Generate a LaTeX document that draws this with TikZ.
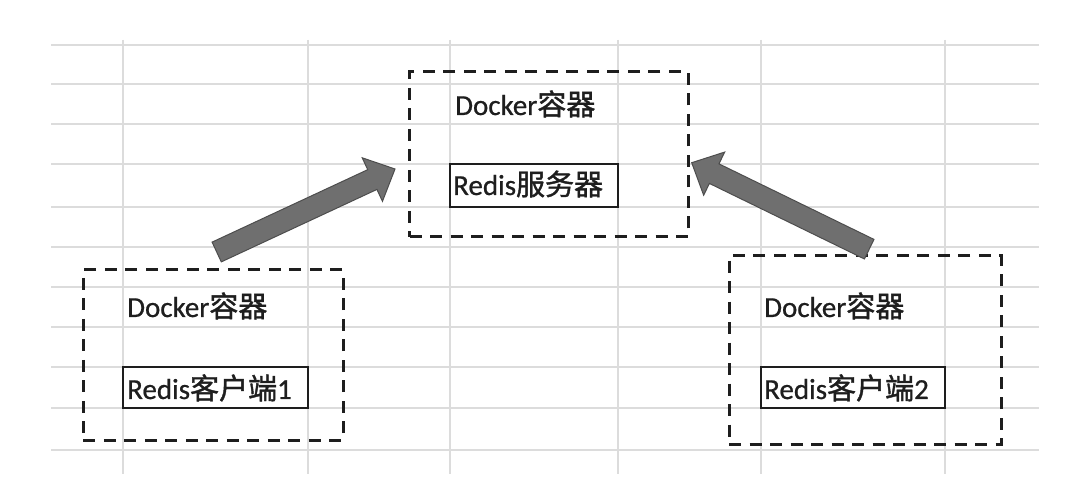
\documentclass[tikz,border=0pt]{standalone}
\usepackage{fontspec}
\setmainfont{Carlito}[UprightFeatures={FakeBold=0.7}]
\newfontfamily\cjk{Noto Sans CJK SC}[UprightFeatures={FakeBold=1.4}]
\usetikzlibrary{calc}
\definecolor{gridc}{HTML}{DCDCDC}
\definecolor{inkc}{HTML}{1E1E1E}
\definecolor{arrfill}{HTML}{6F6F6F}
\definecolor{arredge}{HTML}{4D4D4D}
\tikzset{
  gridline/.style={draw=gridc, line width=1.3pt},
  container/.style={draw=inkc, line width=3pt, dash pattern=on 12pt off 8.5pt, inner sep=0pt, rectangle},
  cellbox/.style={draw=inkc, line width=2.8pt, inner sep=0pt, rectangle},
  lbl/.style={anchor=base west, inner sep=0pt, text=inkc, font=\fontsize{29}{30}\selectfont},
  blockarrowstyle/.style={draw=arredge, fill=arrfill, line width=1pt, line join=miter},
}
\newcommand\blockarrow[3]{%
  \coordinate (#1hb) at ($(#3)!25pt!(#2)$);
  \draw[blockarrowstyle]
    ($(#2)!10.9pt!90:(#3)$) -- ($(#1hb)!10.9pt!90:(#3)$) -- ($(#1hb)!24pt!90:(#3)$)
    -- (#3) -- ($(#1hb)!24pt!-90:(#3)$) -- ($(#1hb)!10.9pt!-90:(#3)$)
    -- ($(#2)!10.9pt!-90:(#3)$) -- cycle;}
\begin{document}
\begin{tikzpicture}[x=1pt,y=-1pt]
  \useasboundingbox[fill=white] (0,0) rectangle (1090,494);
  % spreadsheet grid
  \foreach \yy in {45,84,124,164,207,247,287,327,367,408,450}
    \draw[gridline] (51,\yy) -- (1039,\yy);
  \foreach \xx in {123,308,450,618,761,945}
    \draw[gridline] (\xx,40) -- (\xx,474);

  % containers
  \node[container, minimum width=278.5pt, minimum height=165pt] (server) at (548.75,154.5) {};
  \node[container, minimum width=259.6pt, minimum height=170pt] (client1) at (213.2,355) {};
  \node[container, minimum width=272pt, minimum height=189pt] (client2) at (865,350.2) {};

  % bordered cells
  \node[cellbox, minimum width=168pt, minimum height=43pt] (servercell) at (534,185.5) {};
  \node[cellbox, minimum width=185pt, minimum height=41pt] (c1cell) at (215.5,387.5) {};
  \node[cellbox, minimum width=184pt, minimum height=41pt] (c2cell) at (853,387.5) {};

  % texts
  \node[lbl] (serverdocker) at (455,115) {Docker{\cjk 容器}};
  \node[lbl] (serverredis) at (453,195) {Redis{\cjk 服务器}};
  \node[lbl] (c1docker) at (127,317) {Docker{\cjk 容器}};
  \node[lbl] (c1redis) at (127,399) {Redis{\cjk 客户端}1};
  \node[lbl] (c2docker) at (764,317) {Docker{\cjk 容器}};
  \node[lbl] (c2redis) at (764,399) {Redis{\cjk 客户端}2};

  % block arrows
  \coordinate (a1tail) at (216.7,252);
  \coordinate (a1tip) at (395,169);
  \coordinate (a2tail) at (869.2,249.2);
  \coordinate (a2tip) at (691.7,162.7);
  \blockarrow{a1}{a1tail}{a1tip}
  \blockarrow{a2}{a2tail}{a2tip}
\end{tikzpicture}
\end{document}
